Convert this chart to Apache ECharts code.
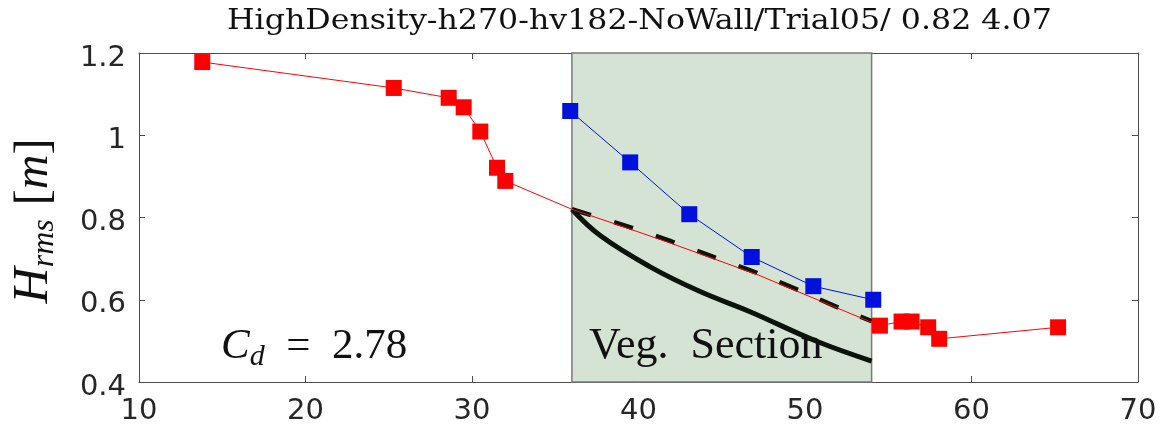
<!DOCTYPE html>
<html><head><meta charset="utf-8">
<script src="https://cdn.jsdelivr.net/npm/echarts@6/dist/echarts.min.js"></script>
<style>html,body{margin:0;padding:0;background:#fff}#c{width:1162px;height:431px}</style>
</head><body><div id="c"></div>
<script>
const titleText = 'HighDensity-h270-hv182-NoWall/Trial05/ 0.82 4.07';
const xTicks = [10, 20, 30, 40, 50, 60, 70];
const yTicks = [0.4, 0.6, 0.8, 1, 1.2];
const vegSection = [36, 54];
const redX = [13.8, 25.3, 28.6, 29.5, 30.5, 31.5, 32.0, 36.0, 39.2, 41.9, 44.5, 47.2, 49.8, 52.4, 54.5, 55.8, 56.4, 57.4, 58.06, 65.2];
const redY = [1.178, 1.115, 1.091, 1.068, 1.009, 0.921, 0.889, 0.82, 0.776, 0.738, 0.70, 0.66, 0.616, 0.572, 0.537, 0.547, 0.547, 0.533, 0.505, 0.533];
const redMarked = [1,1,1,1,1,1,1,0,0,0,0,0,0,0,1,1,1,1,1,1];
const blueX = [35.9, 39.5, 43.05, 46.8, 50.5, 54.1];
const blueY = [1.059, 0.934, 0.808, 0.704, 0.633, 0.600];
const solidX = [36, 37.7, 40.7, 43.7, 46.7, 50.7, 54];
const solidY = [0.82, 0.756, 0.68, 0.62, 0.571, 0.499, 0.451];
const dashX = [36, 39.2, 41.9, 44.5, 47.2, 49.8, 52.4, 54];
const dashY = [0.82, 0.78, 0.743, 0.704, 0.664, 0.62, 0.574, 0.548];

const zip = (a, b) => a.map((v, i) => [v, b[i]]);
const chart = echarts.init(document.getElementById('c'));
const axCol = '#4d4d4d';
const lblStyle = {fontFamily: 'DejaVu Sans', fontSize: 29, color: '#262626'};
const serif = 'Liberation Serif';
const ink = '#111111';
chart.setOption({
  animation: false,
  grid: {left: 139, right: 24, top: 53, bottom: 49},
  xAxis: [{
    type: 'value', min: 10, max: 70, interval: 10,
    axisLine: {show: true, lineStyle: {color: axCol, width: 1}},
    axisTick: {show: true, inside: true, length: 6, lineStyle: {color: axCol}},
    axisLabel: Object.assign({margin: 15}, lblStyle),
    splitLine: {show: false}
  }, {
    type: 'value', min: 10, max: 70, interval: 10, position: 'top',
    axisLine: {show: true, onZero: false, lineStyle: {color: axCol, width: 1}},
    axisTick: {show: true, inside: true, length: 6, lineStyle: {color: axCol}},
    axisLabel: {show: false}, splitLine: {show: false}
  }],
  yAxis: [{
    type: 'value', min: 0.4, max: 1.2, interval: 0.2,
    axisLine: {show: true, lineStyle: {color: axCol, width: 1}},
    axisTick: {show: true, inside: true, length: 6, lineStyle: {color: axCol}},
    axisLabel: Object.assign({margin: 13, verticalAlign: 'top', lineHeight: 10}, lblStyle),
    splitLine: {show: false}
  }, {
    type: 'value', min: 0.4, max: 1.2, interval: 0.2, position: 'right',
    axisLine: {show: true, onZero: false, lineStyle: {color: axCol, width: 1}},
    axisTick: {show: true, inside: true, length: 6, lineStyle: {color: axCol}},
    axisLabel: {show: false}, splitLine: {show: false}
  }],
  series: [
    {
      type: 'line', data: [], z: 1,
      markArea: {
        silent: true,
        itemStyle: {color: '#d4e3d4', borderColor: '#7a7a7a', borderWidth: 1.5},
        data: [[{xAxis: vegSection[0], yAxis: 0.4}, {xAxis: vegSection[1], yAxis: 1.2}]]
      }
    },
    {
      type: 'line', data: zip(solidX, solidY), smooth: 0.4, symbol: 'none', z: 3,
      lineStyle: {color: '#0a140a', width: 5}
    },
    {
      type: 'line', data: zip(dashX, dashY), smooth: 0.3, symbol: 'none', z: 3,
      lineStyle: {color: '#0a140a', width: 4.5, type: [20, 24]}
    },
    {
      type: 'line', z: 4,
      data: redX.map((x, i) => ({value: [x, redY[i]], symbol: redMarked[i] ? 'rect' : 'none'})),
      symbol: 'rect', symbolSize: 16,
      itemStyle: {color: '#ff0000'},
      lineStyle: {color: '#ff0000', width: 1}
    },
    {
      type: 'line', z: 4, data: zip(blueX, blueY),
      symbol: 'rect', symbolSize: 16,
      itemStyle: {color: '#0010dd'},
      lineStyle: {color: '#0010dd', width: 1}
    }
  ],
  graphic: [
    {type: 'text', x: 227, y: 22, scaleX: 1.13,
      style: {text: titleText, font: '28px "DejaVu Serif"', fill: ink, verticalAlign: 'middle'}},
    {type: 'text', x: 34, y: 221, rotation: Math.PI / 2,
      style: {
        text: '{H|H}{s|rms}{b| [}{m|m}{b|]}',
        align: 'center', verticalAlign: 'middle',
        rich: {
          H: {fontFamily: serif, fontStyle: 'italic', fontSize: 50, fill: ink},
          s: {fontFamily: serif, fontStyle: 'italic', fontSize: 32, fill: ink, padding: [22, 2, 0, 0]},
          b: {fontFamily: serif, fontSize: 48, fill: ink},
          m: {fontFamily: serif, fontStyle: 'italic', fontSize: 48, fill: ink}
        }
      }
    },
    {type: 'text', x: 221, y: 347,
      style: {
        text: '{C|C}{d|d}{t|  =  2.78}',
        verticalAlign: 'middle',
        rich: {
          C: {fontFamily: serif, fontStyle: 'italic', fontSize: 43, fill: ink},
          d: {fontFamily: serif, fontStyle: 'italic', fontSize: 30, fill: ink, padding: [20, 0, 0, 0]},
          t: {fontFamily: serif, fontSize: 43, fill: ink}
        }
      }
    },
    {type: 'text', x: 589, y: 346, z: 2,
      style: {text: 'Veg.  Section', font: '44px "Liberation Serif"', fill: ink, verticalAlign: 'middle'}}
  ]
});
</script></body></html>
